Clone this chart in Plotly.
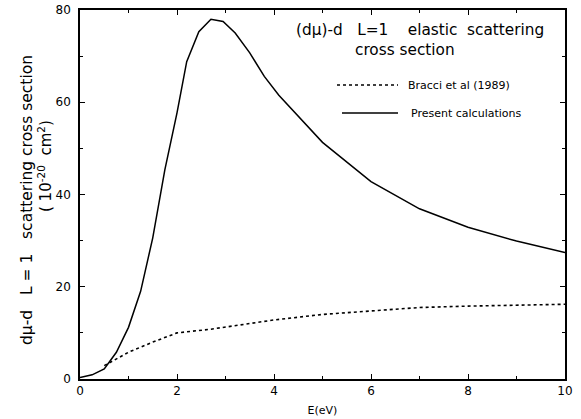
import plotly.graph_objects as go

# Present calculations (solid)
present_e = [0, 0.25, 0.5, 0.75, 1.0, 1.25, 1.5, 1.75, 2.0, 2.2, 2.45, 2.7, 2.95, 3.2,
             3.5, 3.8, 4.1, 5.0, 6.0, 7.0, 8.0, 9.0, 10.0]
present_sigma = [0.3, 0.9, 2.2, 5.8, 11.2, 19.0, 30.6, 45.4, 57.7, 68.8, 75.3, 78.0, 77.5, 75.0,
                 70.7, 65.6, 61.5, 51.3, 42.8, 36.9, 32.9, 29.9, 27.4]

# Bracci et al (1989) (dotted)
bracci_e = [0.5, 1.0, 1.5, 2.0, 2.7, 3.4, 4.0, 5.0, 6.0, 7.0, 8.0, 9.0, 10.0]
bracci_sigma = [2.9, 5.8, 8.0, 10.0, 10.8, 11.9, 12.8, 14.0, 14.8, 15.5, 15.8, 16.0, 16.2]

x_ticks = [0, 2, 4, 6, 8, 10]
y_ticks = [0, 20, 40, 60, 80]

FONT = "DejaVu Sans, Liberation Sans, Arial, sans-serif"

fig = go.Figure()
fig.add_trace(go.Scatter(x=bracci_e, y=bracci_sigma, mode="lines",
                         line=dict(color="black", width=1.6, dash="3px,3px"),
                         name="Bracci et al (1989)", showlegend=False))
fig.add_trace(go.Scatter(x=present_e, y=present_sigma, mode="lines",
                         line=dict(color="black", width=1.5),
                         name="Present calculations", showlegend=False))

axis_common = dict(showgrid=False, zeroline=False, showline=True, linecolor="black",
                   linewidth=1.5, mirror="ticks", ticks="inside", ticklen=5,
                   tickwidth=1.2, tickcolor="black", automargin=False,
                   tickfont=dict(family=FONT, size=12, color="black"))

fig.update_xaxes(range=[0, 10], tickvals=x_ticks, ticktext=[str(v) for v in x_ticks],
                 minor=dict(dtick=1, ticks="inside", ticklen=3, tickcolor="black", tickwidth=1),
                 title=dict(text="E(eV)", font=dict(family=FONT, size=11, color="black"), standoff=9),
                 **axis_common)
fig.update_yaxes(range=[0, 80], tickvals=y_ticks, ticktext=[str(v) for v in y_ticks],
                 minor=dict(dtick=10, ticks="inside", ticklen=3, tickcolor="black", tickwidth=1),
                 ticklabelstandoff=5,
                 **axis_common)

def px_x(px):
    return (px - 80) / 485

def px_y(py):
    return 1 - (py - 10) / 369

annotations = [
    dict(text="dμ-d   L = 1   scattering cross section", x=px_x(27), y=px_y(200),
         textangle=-90, font=dict(size=15.5)),
    dict(text="( 10<sup>-20</sup>  cm<sup>2</sup>)", x=px_x(45), y=px_y(166),
         textangle=-90, font=dict(size=15)),
    dict(text="(dμ)-d   L=1    elastic  scattering", x=px_x(419.5), y=px_y(30),
         font=dict(size=15.3)),
    dict(text="cross section", x=px_x(405), y=px_y(50), font=dict(size=15.3)),
    dict(text="Bracci et al (1989)", x=px_x(406), y=px_y(85), xanchor="left",
         font=dict(size=11)),
    dict(text="Present calculations", x=px_x(409), y=px_y(113), xanchor="left",
         font=dict(size=11)),
]
for a in annotations:
    a.setdefault("xanchor", "center")
    a["font"] = dict(family=FONT, color="black", size=a["font"]["size"])
    fig.add_annotation(xref="paper", yref="paper", showarrow=False, yanchor="middle", **a)

fig.add_shape(type="line", xref="paper", yref="paper", x0=px_x(337), x1=px_x(398),
              y0=px_y(85), y1=px_y(85), line=dict(color="black", width=1.5, dash="3px,3px"))
fig.add_shape(type="line", xref="paper", yref="paper", x0=px_x(342), x1=px_x(398),
              y0=px_y(113), y1=px_y(113), line=dict(color="black", width=1.3))

fig.update_layout(width=581, height=419, margin=dict(l=80, r=16, t=10, b=40, autoexpand=False),
                  plot_bgcolor="white", paper_bgcolor="white",
                  font=dict(family=FONT, color="black"), showlegend=False)

fig.write_html("out.html", config={"displayModeBar": False},
               post_script="document.body.style.margin='0';")
